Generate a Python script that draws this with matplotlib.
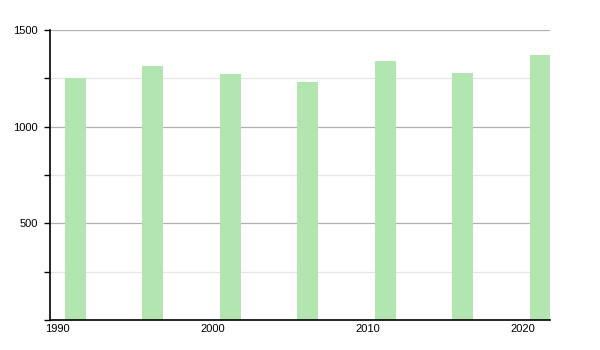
import matplotlib
matplotlib.use("Agg")
import matplotlib.pyplot as plt
from matplotlib.ticker import MultipleLocator

# census years and population
years = [1991, 1996, 2001, 2006, 2011, 2016, 2021]
population = [1250, 1314, 1272, 1231, 1340, 1279, 1371]
xticks = [1990, 2000, 2010, 2020]
yticks = [500, 1000, 1500]

plt.rcParams['font.family'] = ['Liberation Sans', 'DejaVu Sans']

fig = plt.figure(figsize=(6, 3.5), dpi=100)
ax = fig.add_axes([50 / 600, 30 / 350, 500 / 600, 290 / 350])

# bars sit slightly right of the census year
xs = [y + 0.15 for y in years]
ax.bar(xs, population, width=1.35, color='#b2e5b0', zorder=2)

ax.set_xlim(1989.52, 2021.77)
ax.set_ylim(0, 1500)
ax.set_xticks(xticks)
ax.set_xticklabels([str(t) for t in xticks])
ax.set_yticks(yticks)
ax.yaxis.set_minor_locator(MultipleLocator(250))

ax.grid(True, axis='y', which='major', color='#b0b0b0', linewidth=0.9, zorder=0)
ax.grid(True, axis='y', which='minor', color='#e6e6e6', linewidth=0.9, zorder=0)

for side in ['top', 'right']:
    ax.spines[side].set_visible(False)
ax.spines['left'].set_linewidth(1.2)
ax.spines['bottom'].set_linewidth(1.2)

ax.tick_params(axis='x', length=0, labelsize=8, pad=3)
ax.tick_params(axis='y', which='major', length=4, width=1, labelsize=8, pad=5)
ax.tick_params(axis='y', which='minor', length=4, width=1)

fig.savefig('out.png', dpi=100)
